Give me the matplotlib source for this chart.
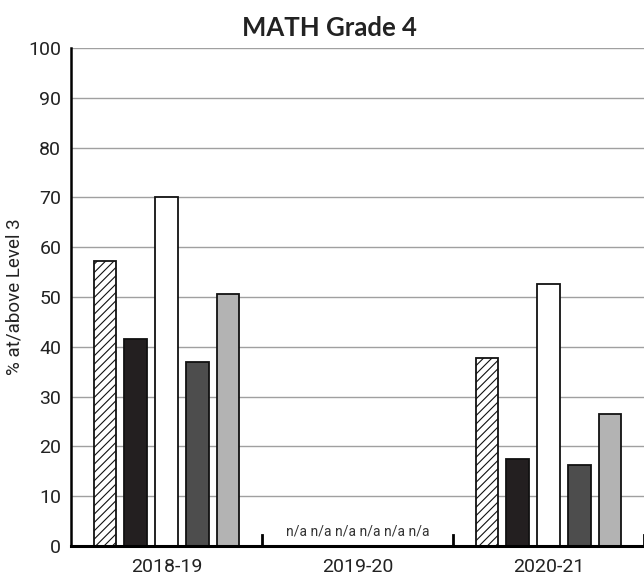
import numpy as np
from matplotlib import pyplot as plt

# chart data
years = ["2018-19", "2019-20", "2020-21"]
hatched = [57.2, np.nan, 37.8]
black = [41.6, np.nan, 17.4]
white = [70.0, np.nan, 52.6]
darkGray = [37.0, np.nan, 16.2]
lightGray = [50.6, np.nan, 26.6]
naLabel = "n/a"
naCount = 6

plt.rcParams['font.family'] = ['Roboto', 'DejaVu Sans']
plt.rcParams['hatch.linewidth'] = 0.8

fig = plt.figure(figsize=(6.44, 5.77), dpi=100)
ax = fig.add_axes([71/644, 31/577, 573/644, 498/577])

x = np.arange(len(years))
series = [
    (hatched, "white", "////"),
    (black, "#231f20", None),
    (white, "white", None),
    (darkGray, "#4d4d4d", None),
    (lightGray, "#b3b3b3", None),
]
step = 0.161
width = 0.118
for i, (vals, col, hatch) in enumerate(series):
    ax.bar(x + (i - 2) * step, vals, width, color=col, edgecolor="#111111",
           linewidth=1.3, hatch=hatch, zorder=3)

# n/a labels for missing year
ax.text(1, 1.6, " ".join([naLabel] * naCount), ha="center", va="bottom",
        fontsize=10, color="#333333")

ax.set_xlim(-0.5, 2.5)
ax.set_ylim(0, 100)
ax.set_yticks(range(0, 101, 10))
ax.yaxis.grid(True, color="#a0a0a0", linewidth=1.0, zorder=0)
ax.tick_params(axis="y", length=0, labelsize=14, pad=7, labelcolor="#222222")
ax.set_xticks(x)
ax.set_xticklabels(years, fontsize=14, color="#222222")
ax.tick_params(axis="x", length=0, pad=9)

# category separators
for b in [0.5, 1.5, 2.5]:
    ax.plot([b, b], [0, 2.2], color="black", linewidth=2, zorder=4, clip_on=False)

for s in ["top", "right"]:
    ax.spines[s].set_visible(False)
ax.spines["left"].set_linewidth(1.8)
ax.spines["bottom"].set_linewidth(2.2)
ax.spines["left"].set_zorder(5)
ax.spines["bottom"].set_zorder(5)

fig.text(15/644, 1 - 297/577, "% at/above Level 3", rotation=90, ha="center",
         va="center", fontsize=13.5, color="#222222")
fig.text(0.512, 0.952, "MATH Grade 4", ha="center", va="center",
         fontsize=18.5, fontweight="bold", family=["Lato", "DejaVu Sans"], color="#222222")

plt.savefig("out.png")
